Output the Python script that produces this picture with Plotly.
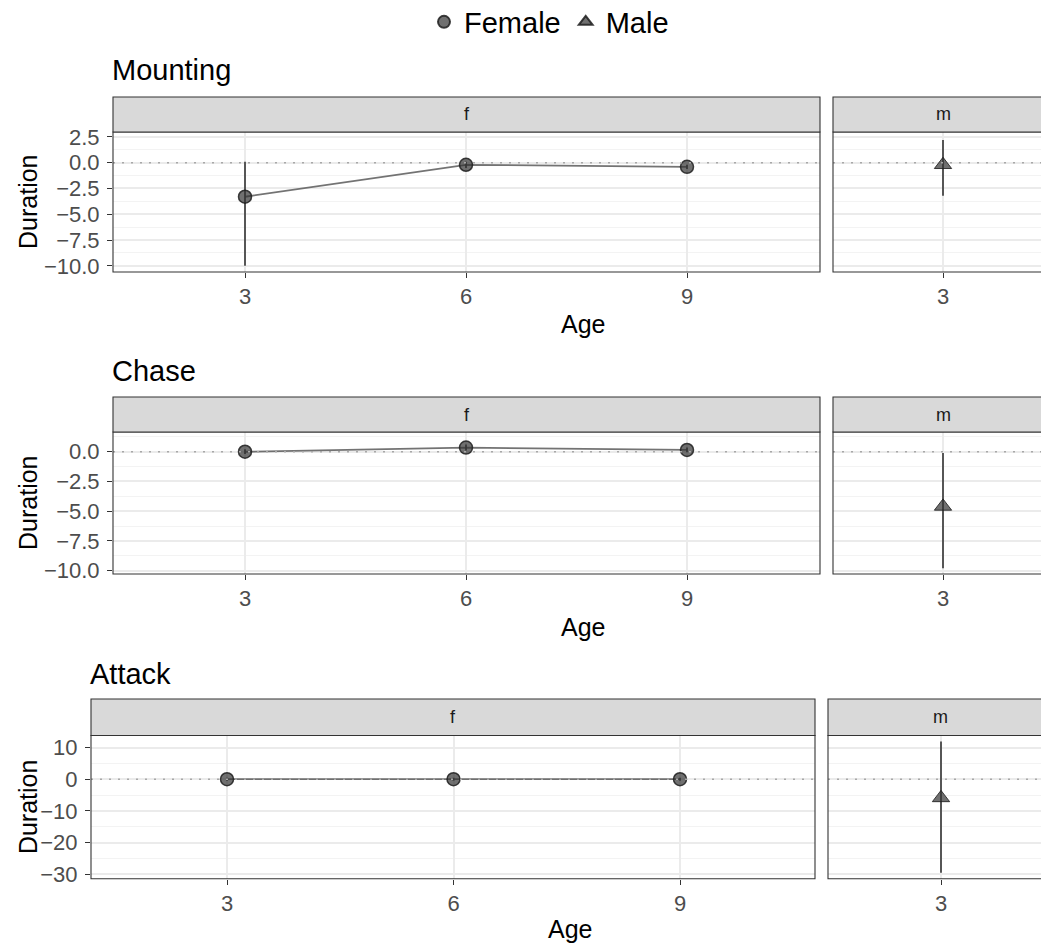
import plotly.graph_objects as go

W, H = 1049, 949

ages = [3, 6, 9]
male_age = [3]

mount_f = [-3.3, -0.2, -0.4]
mount_f_lo = [-10.0, -0.5, -0.6]
mount_f_hi = [0.1, 0.1, -0.2]
mount_m = [-0.2]
mount_m_lo = [-3.2]
mount_m_hi = [2.2]

chase_f = [0.0, 0.35, 0.15]
chase_f_lo = [-0.2, 0.1, -0.05]
chase_f_hi = [0.2, 0.6, 0.35]
chase_m = [-4.6]
chase_m_lo = [-9.8]
chase_m_hi = [-0.1]

attack_f = [0.0, 0.0, 0.0]
attack_f_lo = [-0.5, -0.5, -0.5]
attack_f_hi = [0.5, 0.5, 0.5]
attack_m = [-5.9]
attack_m_lo = [-29.5]
attack_m_hi = [11.9]

titles = ["Mounting", "Chase", "Attack"]
y_ticks = [[2.5, 0.0, -2.5, -5.0, -7.5, -10.0],
           [0.0, -2.5, -5.0, -7.5, -10.0],
           [10, 0, -10, -20, -30]]
y_ranges = [[-10.6, 2.98], [-10.28, 1.66], [-31.4, 13.8]]
y_minor = [1.25, 1.25, 5]
y_fmt = [".1f", ".1f", "d"]

# pixel geometry of each block: (f_left, f_right, m_left, m_right, strip_top, plot_top, plot_bottom, title_y, age_x, age_y)
blocks = [
    (113, 820, 833, 1053, 97, 132, 272, 70, 583, 324),
    (113, 820, 833, 1053, 397, 432, 574, 371, 583, 627),
    (91, 815, 828, 1053, 699, 735.5, 878.7, 674, 570, 929),
]

data = [
    (mount_f, mount_f_lo, mount_f_hi, mount_m, mount_m_lo, mount_m_hi),
    (chase_f, chase_f_lo, chase_f_hi, chase_m, chase_m_lo, chase_m_hi),
    (attack_f, attack_f_lo, attack_f_hi, attack_m, attack_m_lo, attack_m_hi),
]

FONT = "Liberation Sans, Arial, sans-serif"
PT_FILL = "rgba(51,51,51,0.7)"
PT_LINE = "rgba(30,30,30,0.85)"
ERR_COL = "rgba(60,60,60,0.85)"
LINE_COL = "rgba(90,90,90,0.85)"
OFF = 8  # page body margin

def px(x):
    return (x - OFF) / W

def py(y):
    return 1 - (y - OFF) / H

def ax_names(k):
    s = "" if k == 1 else str(k)
    return f"x{s}", f"y{s}", f"xaxis{s}", f"yaxis{s}"

fig = go.Figure()
shapes = []
annotations = []
layout = {}

for i, (blk, d) in enumerate(zip(blocks, data)):
    fl, fr, ml, mr, st, pt, pb, ty, ax_, ay_ = blk
    fy, flo, fhi, my, mlo, mhi = d
    xf, yf, xfk, yfk = ax_names(2 * i + 1)
    xm, ym, xmk, ymk = ax_names(2 * i + 2)

    fig.add_trace(go.Scatter(x=ages, y=fy, mode="lines", xaxis=xf, yaxis=yf,
                             line=dict(color=LINE_COL, width=1.8), showlegend=False,
                             hoverinfo="skip"))
    fig.add_trace(go.Scatter(
        x=ages, y=fy, mode="markers", xaxis=xf, yaxis=yf, name="Female",
        legendgroup="Female", showlegend=(i == 0),
        marker=dict(symbol="circle", size=13, color=PT_FILL, line=dict(color=PT_LINE, width=1.5)),
        error_y=dict(type="data", symmetric=False,
                     array=[h - v for h, v in zip(fhi, fy)],
                     arrayminus=[v - l for v, l in zip(fy, flo)],
                     color=ERR_COL, thickness=2, width=0)))
    fig.add_trace(go.Scatter(
        x=male_age, y=my, mode="markers", xaxis=xm, yaxis=ym, name="Male",
        legendgroup="Male", showlegend=(i == 0),
        marker=dict(symbol="triangle-up", size=15, color=PT_FILL, line=dict(color=PT_LINE, width=1)),
        error_y=dict(type="data", symmetric=False,
                     array=[h - v for h, v in zip(mhi, my)],
                     arrayminus=[v - l for v, l in zip(my, mlo)],
                     color=ERR_COL, thickness=2, width=0)))

    ydom = [py(pb), py(pt)]
    common_y = dict(range=y_ranges[i], domain=ydom, showgrid=True, gridcolor="#EBEBEB",
                    gridwidth=1.8, zeroline=False, showline=False, tickvals=y_ticks[i],
                    minor=dict(dtick=y_minor[i], tick0=0, showgrid=True, gridcolor="#F3F3F3", gridwidth=1),
                    tickfont=dict(family=FONT, size=22, color="#4D4D4D"), tickformat=y_fmt[i])
    layout[yfk] = dict(common_y, anchor=xf, ticks="outside", ticklen=5,
                       tickcolor="#333333", tickwidth=1.2, ticklabelstandoff=3)
    layout[ymk] = dict(common_y, anchor=xm, showticklabels=False, ticks="")

    x3_f, x9_f = (245, 687) if i < 2 else (227, 680)
    f_scale = (ages[2] - ages[0]) / (x9_f - x3_f)
    fx_range = [3 - (x3_f - fl) * f_scale, 3 + (fr - x3_f) * f_scale]
    x3_m = 943 if i < 2 else 941
    m_scale = 0.01
    mx_range = [3 - (x3_m - ml) * m_scale, 3 + (W - x3_m) * m_scale]
    common_x = dict(showgrid=True, gridcolor="#EBEBEB", gridwidth=1.8, zeroline=False, showline=False,
                    ticks="outside", ticklen=5, tickcolor="#333333", tickwidth=1.2,
                    tickfont=dict(family=FONT, size=22, color="#4D4D4D"))
    layout[xfk] = dict(common_x, domain=[px(fl), px(fr)], range=fx_range,
                       tickvals=ages, anchor=yf)
    layout[xmk] = dict(common_x, domain=[px(ml), px(W)], range=mx_range,
                       tickvals=male_age, anchor=ym)

    for xa, ya in ((xf, yf), (xm, ym)):
        shapes.append(dict(type="line", xref=f"{xa} domain", yref=ya, x0=0, x1=1, y0=0, y1=0,
                           line=dict(color="#A8A8A8", width=1.6, dash="2px,7px"), layer="above"))
    for l, r, lab in ((fl, fr, "f"), (ml, mr, "m")):
        shapes.append(dict(type="rect", xref="paper", yref="paper", x0=px(l), x1=px(r),
                           y0=py(pb), y1=py(pt), line=dict(color="#333333", width=1.1),
                           fillcolor="rgba(0,0,0,0)", layer="above"))
        shapes.append(dict(type="rect", xref="paper", yref="paper", x0=px(l), x1=px(r),
                           y0=py(pt), y1=py(st), line=dict(color="#333333", width=1.1),
                           fillcolor="#D9D9D9", layer="above"))
        annotations.append(dict(text=lab, xref="paper", yref="paper", x=px((l + r) / 2),
                                y=py((st + pt) / 2), showarrow=False,
                                font=dict(family=FONT, size=18, color="#1A1A1A"),
                                xanchor="center", yanchor="middle"))
    annotations.append(dict(text=titles[i], xref="paper", yref="paper", x=px(fl - 3), y=py(ty),
                            showarrow=False, xanchor="left", yanchor="middle",
                            font=dict(family=FONT, size=29, color="black")))
    annotations.append(dict(text="Duration", xref="paper", yref="paper", x=px(28),
                            y=py((pt + pb) / 2), showarrow=False, textangle=-90,
                            xanchor="center", yanchor="middle",
                            font=dict(family=FONT, size=25, color="black")))
    annotations.append(dict(text="Age", xref="paper", yref="paper", x=px(ax_), y=py(ay_),
                            showarrow=False, xanchor="center", yanchor="middle",
                            font=dict(family=FONT, size=25, color="black")))

fig.update_layout(
    width=W, height=H,
    margin=dict(l=0, r=0, t=0, b=0, autoexpand=False),
    paper_bgcolor="white", plot_bgcolor="white",
    font=dict(family=FONT),
    shapes=shapes, annotations=annotations,
    legend=dict(orientation="h", x=px(549), xanchor="center", y=py(22), yanchor="middle",
                font=dict(family=FONT, size=29, color="black"), itemsizing="constant",
                bgcolor="rgba(0,0,0,0)"),
    **layout,
)

fig.write_html("out.html")
